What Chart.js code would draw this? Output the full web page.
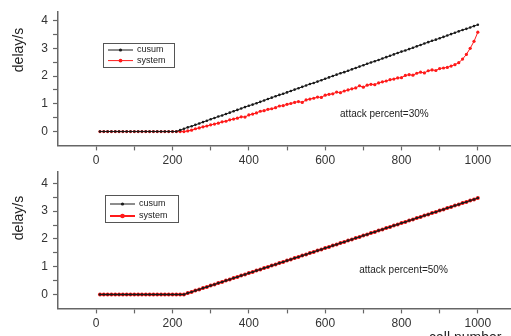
<!DOCTYPE html>
<html>
<head>
<meta charset="utf-8">
<script src="https://cdn.jsdelivr.net/npm/chart.js@4.4.1/dist/chart.umd.min.js"></script>
<style>
    html, body { margin: 0; padding: 0; overflow: hidden; background: #fff; }
    #wrap { position: relative; width: 511px; height: 336px; overflow: hidden; }
    canvas { position: absolute; left: 0; }
    #chart30 { top: 0; }
    #chart50 { top: 160px; }
</style>
</head>
<body>
<div id="wrap">
    <canvas id="chart30" width="520" height="175"></canvas>
    <canvas id="chart50" width="520" height="185"></canvas>
</div>
<script>
// x values: call number, one sample every 10 calls
const callNumbers = [
    10, 20, 30, 40, 50, 60, 70, 80, 90, 100,
    110, 120, 130, 140, 150, 160, 170, 180, 190, 200,
    210, 220, 230, 240, 250, 260, 270, 280, 290, 300,
    310, 320, 330, 340, 350, 360, 370, 380, 390, 400,
    410, 420, 430, 440, 450, 460, 470, 480, 490, 500,
    510, 520, 530, 540, 550, 560, 570, 580, 590, 600,
    610, 620, 630, 640, 650, 660, 670, 680, 690, 700,
    710, 720, 730, 740, 750, 760, 770, 780, 790, 800,
    810, 820, 830, 840, 850, 860, 870, 880, 890, 900,
    910, 920, 930, 940, 950, 960, 970, 980, 990, 1000
];

// delay in seconds, attack percent = 30%
const cusum30 = [
    0, 0, 0, 0, 0, 0, 0, 0, 0, 0,
    0, 0, 0, 0, 0, 0, 0, 0, 0, 0,
    0, 0.05, 0.10, 0.15, 0.19, 0.24, 0.29, 0.34, 0.39, 0.44,
    0.49, 0.54, 0.58, 0.63, 0.68, 0.73, 0.78, 0.83, 0.88, 0.93,
    0.97, 1.02, 1.07, 1.12, 1.17, 1.22, 1.27, 1.32, 1.36, 1.41,
    1.46, 1.51, 1.56, 1.61, 1.66, 1.71, 1.75, 1.80, 1.85, 1.90,
    1.95, 2.00, 2.05, 2.10, 2.14, 2.19, 2.24, 2.29, 2.34, 2.39,
    2.44, 2.49, 2.53, 2.58, 2.63, 2.68, 2.73, 2.78, 2.83, 2.88,
    2.92, 2.97, 3.02, 3.07, 3.12, 3.17, 3.22, 3.27, 3.31, 3.36,
    3.41, 3.46, 3.51, 3.56, 3.61, 3.66, 3.70, 3.75, 3.80, 3.85
];
const system30 = [
    0, 0, 0, 0, 0, 0, 0, 0, 0, 0,
    0, 0, 0, 0, 0, 0, 0, 0, 0, 0,
    0, 0, 0, 0.02, 0.05, 0.10, 0.13, 0.17, 0.20, 0.24,
    0.27, 0.30, 0.35, 0.37, 0.42, 0.45, 0.48, 0.53, 0.52, 0.60,
    0.63, 0.67, 0.73, 0.75, 0.80, 0.82, 0.86, 0.92, 0.93, 0.98,
    1.01, 1.05, 1.08, 1.05, 1.14, 1.17, 1.20, 1.24, 1.23, 1.31,
    1.34, 1.36, 1.42, 1.40, 1.46, 1.50, 1.54, 1.57, 1.65, 1.60,
    1.67, 1.70, 1.69, 1.75, 1.79, 1.82, 1.87, 1.89, 1.93, 1.94,
    2.02, 2.05, 2.03, 2.10, 2.14, 2.11, 2.19, 2.22, 2.20, 2.27,
    2.29, 2.31, 2.36, 2.41, 2.48, 2.61, 2.78, 3.00, 3.25, 3.58
];

// delay in seconds, attack percent = 50% (both detectors give the same delay)
const cusum50 = [
    0, 0, 0, 0, 0, 0, 0, 0, 0, 0,
    0, 0, 0, 0, 0, 0, 0, 0, 0, 0,
    0, 0, 0, 0.05, 0.09, 0.14, 0.18, 0.23, 0.27, 0.32,
    0.36, 0.41, 0.45, 0.50, 0.54, 0.59, 0.63, 0.68, 0.72, 0.77,
    0.81, 0.86, 0.90, 0.95, 0.99, 1.04, 1.08, 1.13, 1.17, 1.22,
    1.26, 1.31, 1.35, 1.40, 1.44, 1.49, 1.53, 1.58, 1.62, 1.67,
    1.71, 1.76, 1.80, 1.85, 1.89, 1.94, 1.98, 2.03, 2.07, 2.12,
    2.16, 2.21, 2.25, 2.30, 2.34, 2.39, 2.43, 2.48, 2.52, 2.57,
    2.61, 2.66, 2.70, 2.75, 2.79, 2.84, 2.88, 2.93, 2.97, 3.02,
    3.06, 3.11, 3.15, 3.20, 3.24, 3.29, 3.33, 3.38, 3.42, 3.47
];
const system50 = cusum50;

// tick positions (major ones carry a label)
const xTickLabels = [0, 200, 400, 600, 800, 1000];
const xTicks = [0, 100, 200, 300, 400, 500, 600, 700, 800, 900, 1000];
const yTickLabels = [0, 1, 2, 3, 4];
const yTicks = [0, 0.5, 1, 1.5, 2, 2.5, 3, 3.5, 4];

const FONT = '"Liberation Sans", Arial, sans-serif';
const AXIS = '#666';

// legend box, side note and axis titles drawn straight on the canvas
const paperText = {
    id: 'paperText',
    afterDraw(chart, args, opts) {
        const ctx = chart.ctx;
        const xs = chart.scales.x;
        const ys = chart.scales.y;
        ctx.save();

        const lg = opts.legend;
        ctx.strokeStyle = '#555';
        ctx.lineWidth = 1;
        ctx.strokeRect(lg.left + 0.5, lg.top + 0.5, lg.width, lg.height);
        ctx.font = '9px ' + FONT;
        ctx.textBaseline = 'middle';
        chart.data.datasets.forEach((ds, i) => {
            const ry = lg.top + lg.rowTop + i * lg.rowGap;
            ctx.strokeStyle = ds.borderColor;
            ctx.lineWidth = ds.borderWidth;
            ctx.beginPath();
            ctx.moveTo(lg.left + 5, ry);
            ctx.lineTo(lg.left + 30, ry);
            ctx.stroke();
            ctx.fillStyle = ds.borderColor;
            ctx.beginPath();
            ctx.arc(lg.left + 17.5, ry, ds.pointRadius + 0.3, 0, Math.PI * 2);
            ctx.fill();
            ctx.fillStyle = '#222';
            ctx.fillText(ds.label, lg.left + 34, ry);
        });

        const note = opts.note;
        ctx.font = '10px ' + FONT;
        ctx.fillStyle = '#222';
        ctx.fillText(note.text, xs.getPixelForValue(note.x), ys.getPixelForValue(note.y));

        ctx.font = '14px ' + FONT;
        ctx.fillStyle = '#222';
        ctx.save();
        ctx.translate(opts.yTitle.x, opts.yTitle.y);
        ctx.rotate(-Math.PI / 2);
        ctx.textAlign = 'center';
        ctx.fillText('delay/s', 0, 0);
        ctx.restore();

        if (opts.xTitle) {
            ctx.textBaseline = 'alphabetic';
            ctx.fillText('call number', opts.xTitle.x, opts.xTitle.y);
        }
        ctx.restore();
    }
};

const buildChart = (canvasId, cusum, system, cfg) => {
    const ctx = document.getElementById(canvasId).getContext('2d');
    return new Chart(ctx, {
        type: 'line',
        data: {
            datasets: [{
                label: 'cusum',
                data: callNumbers.map((c, i) => ({ x: c, y: cusum[i] })),
                borderColor: '#1a1a1a',
                backgroundColor: '#1a1a1a',
                borderWidth: 1,
                pointRadius: 1.3,
                pointBorderWidth: 0
            }, {
                label: 'system',
                data: callNumbers.map((c, i) => ({ x: c, y: system[i] })),
                borderColor: '#ff1a1a',
                backgroundColor: '#ff1a1a',
                borderWidth: cfg.redWidth,
                pointRadius: cfg.redRadius,
                pointBorderWidth: 0
            }]
        },
        options: {
            responsive: false,
            animation: false,
            layout: { padding: { top: cfg.padTop, right: 3, left: 0, bottom: 0 } },
            plugins: {
                legend: { display: false },
                tooltip: { enabled: false },
                paperText: cfg.text
            },
            scales: {
                x: {
                    type: 'linear',
                    min: -100,
                    max: 1100,
                    afterBuildTicks: scale => { scale.ticks = xTicks.map(v => ({ value: v })); },
                    afterFit: scale => { scale.height = cfg.xHeight; },
                    border: { color: AXIS, width: 1.5 },
                    grid: {
                        drawOnChartArea: false,
                        tickLength: 5,
                        tickWidth: 1.2,
                        tickColor: AXIS
                    },
                    ticks: {
                        autoSkip: false,
                        maxRotation: 0,
                        padding: 3,
                        color: '#333',
                        font: { family: FONT, size: 12 },
                        callback: v => xTickLabels.includes(v) ? v : ''
                    }
                },
                y: {
                    min: -0.5,
                    max: cfg.yMax,
                    afterBuildTicks: scale => { scale.ticks = yTicks.map(v => ({ value: v })); },
                    afterFit: scale => { scale.width = 58; },
                    border: { color: AXIS, width: 1.5 },
                    grid: {
                        drawOnChartArea: false,
                        tickLength: 5,
                        tickWidth: 1.2,
                        tickColor: AXIS
                    },
                    ticks: {
                        autoSkip: false,
                        padding: 5,
                        color: '#333',
                        font: { family: FONT, size: 12 },
                        callback: v => yTickLabels.includes(v) ? v : ''
                    }
                }
            }
        },
        plugins: [paperText]
    });
};

buildChart('chart30', cusum30, system30, {
    yMax: 4.3,
    padTop: 7.6,
    xHeight: 29.6,
    redWidth: 1,
    redRadius: 1.6,
    text: {
        legend: { left: 103, top: 43, width: 71, height: 24, rowTop: 7, rowGap: 10.6 },
        note: { text: 'attack percent=30%', x: 639, y: 0.63 },
        yTitle: { x: 19, y: 50 }
    }
});

buildChart('chart50', cusum50, system50, {
    yMax: 4.4,
    padTop: 7.3,
    xHeight: 36.6,
    redWidth: 2,
    redRadius: 2,
    text: {
        legend: { left: 105, top: 35, width: 73, height: 27, rowTop: 9, rowGap: 12 },
        note: { text: 'attack percent=50%', x: 689, y: 0.87 },
        yTitle: { x: 19, y: 58 },
        xTitle: { x: 429, y: 182 }
    }
});
</script>
</body>
</html>
